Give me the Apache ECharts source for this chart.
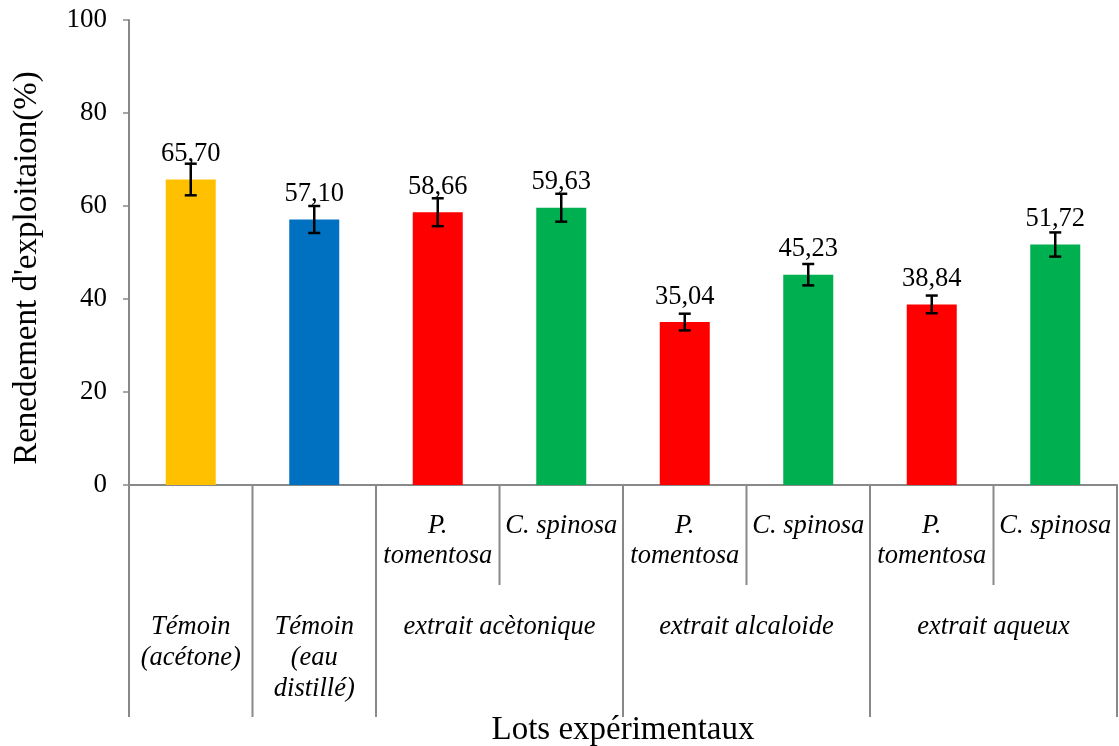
<!DOCTYPE html>
<html>
<head>
<meta charset="utf-8">
<script src="https://cdn.jsdelivr.net/npm/echarts@6/dist/echarts.min.js"></script>
<style>
html,body{margin:0;padding:0;background:#fff;}
#chart{width:1119px;height:746px;}
</style>
</head>
<body>
<div id="chart"></div>
<script>
const categories = ['Témoin (acétone)', 'Témoin (eau distillé)', 'acètonique P. tomentosa', 'acètonique C. spinosa', 'alcaloide P. tomentosa', 'alcaloide C. spinosa', 'aqueux P. tomentosa', 'aqueux C. spinosa'];
const speciesLabels = ['', '', 'P.\ntomentosa', 'C. spinosa', 'P.\ntomentosa', 'C. spinosa', 'P.\ntomentosa', 'C. spinosa'];
const groupNames = ['Témoin\n(acétone)', 'Témoin\n(eau\ndistillé)', 'extrait acètonique', 'extrait alcaloide', 'extrait aqueux'];
const groupSpans = [1, 1, 2, 2, 2];
const values = [65.70, 57.10, 58.66, 59.63, 35.04, 45.23, 38.84, 51.72];
const errors = [3.4, 2.9, 3.0, 3.0, 1.8, 2.3, 1.9, 2.6];
const barColors = ['#FFC000', '#0070C0', '#FF0000', '#00B050', '#FF0000', '#00B050', '#FF0000', '#00B050'];
const yTicks = [0, 20, 40, 60, 80, 100];

const FONT = '"Liberation Serif", "Times New Roman", serif';
const GREY = '#898989';

const chart = echarts.init(document.getElementById('chart'));

const option = {
  animation: false,
  backgroundColor: '#fff',
  grid: { left: 129, right: 2, top: 20, bottom: 261, containLabel: false },
  xAxis: {
    type: 'category',
    data: categories,
    axisLine: { show: true, lineStyle: { color: GREY, width: 2 } },
    axisTick: { show: false },
    axisLabel: {
      interval: 0,
      margin: 26,
      fontFamily: FONT,
      fontStyle: 'italic',
      fontSize: 26.5,
      color: '#000',
      lineHeight: 30,
      verticalAlign: 'top',
      formatter: (v, i) => speciesLabels[i]
    }
  },
  yAxis: {
    type: 'value',
    min: yTicks[0],
    max: yTicks[yTicks.length - 1],
    interval: 20,
    axisLine: { show: true, lineStyle: { color: GREY, width: 2 } },
    axisTick: { show: true, inside: false, length: 6, lineStyle: { color: GREY, width: 1.5 } },
    splitLine: { show: false },
    axisLabel: { fontFamily: FONT, fontSize: 27, color: '#000', margin: 22 }
  },
  series: [
    {
      type: 'bar',
      barWidth: 50,
      data: values.map((v, i) => ({ value: v, itemStyle: { color: barColors[i] } })),
      label: {
        show: true,
        position: 'top',
        distance: 12,
        fontFamily: FONT,
        fontSize: 26.5,
        color: '#000',
        formatter: p => p.value.toFixed(2).replace('.', ',')
      },
      z: 2
    },
    {
      type: 'custom',
      data: values.map((v, i) => [i, v, errors[i]]),
      encode: { x: 0, y: 1 },
      z: 5,
      renderItem: function (params, api) {
        const i = api.value(0), v = api.value(1), e = api.value(2);
        const top = api.coord([i, v + e]);
        const bot = api.coord([i, v - e]);
        const hw = 6;
        const st = { stroke: '#000', lineWidth: 2.5 };
        return {
          type: 'group',
          children: [
            { type: 'line', shape: { x1: top[0], y1: top[1], x2: bot[0], y2: bot[1] }, style: st },
            { type: 'line', shape: { x1: top[0] - hw, y1: top[1], x2: top[0] + hw, y2: top[1] }, style: st },
            { type: 'line', shape: { x1: bot[0] - hw, y1: bot[1], x2: bot[0] + hw, y2: bot[1] }, style: st }
          ]
        };
      }
    }
  ]
};
chart.setOption(option);

// Build the hierarchical axis separators and group labels from axis pixel positions
function buildGraphic() {
  const centers = categories.map((c, i) => chart.convertToPixel({ xAxisIndex: 0 }, i));
  const step = centers.length > 1 ? centers[1] - centers[0] : 100;
  const bounds = [];
  for (let i = 0; i <= categories.length; i++) bounds.push(centers[0] - step / 2 + i * step);
  const y0 = chart.convertToPixel({ yAxisIndex: 0 }, 0);
  const elems = [];
  let idx = 0;
  const groupBounds = [0];
  groupSpans.forEach(s => { idx += s; groupBounds.push(idx); });
  groupBounds.forEach(b => {
    elems.push({ type: 'line', shape: { x1: bounds[b], y1: y0, x2: bounds[b], y2: y0 + 232 }, style: { stroke: GREY, lineWidth: 2 }, silent: true });
  });
  idx = 0;
  groupSpans.forEach(s => {
    for (let k = 1; k < s; k++) {
      const b = idx + k;
      elems.push({ type: 'line', shape: { x1: bounds[b], y1: y0, x2: bounds[b], y2: y0 + 100 }, style: { stroke: GREY, lineWidth: 2 }, silent: true });
    }
    idx += s;
  });
  idx = 0;
  groupNames.forEach((g, gi) => {
    const cx = (bounds[idx] + bounds[idx + groupSpans[gi]]) / 2;
    elems.push({
      type: 'text', x: cx, y: y0 + 127,
      style: { text: g, fontFamily: FONT, fontStyle: 'italic', fontSize: 26.5, lineHeight: 31, fill: '#000', align: 'center', verticalAlign: 'top' },
      silent: true
    });
    idx += groupSpans[gi];
  });
  elems.push({
    type: 'text', x: (bounds[0] + bounds[bounds.length - 1]) / 2, y: 730,
    style: { text: 'Lots expérimentaux', fontFamily: FONT, fontSize: 33, fill: '#000', align: 'center', verticalAlign: 'middle' },
    silent: true
  });
  elems.push({
    type: 'text', x: 27, y: 268, rotation: Math.PI / 2,
    style: { text: "Renedement d'exploitaion(%)", fontFamily: FONT, fontSize: 33, fill: '#000', align: 'center', verticalAlign: 'middle' },
    silent: true
  });
  chart.setOption({ graphic: elems });
}
buildGraphic();
</script>
</body>
</html>
